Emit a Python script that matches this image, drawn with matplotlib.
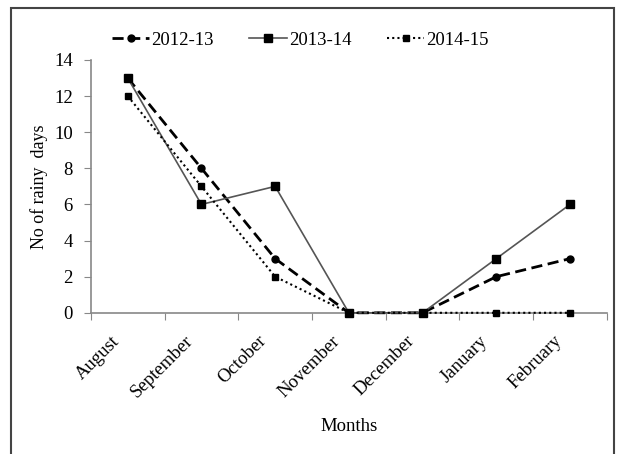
import matplotlib.pyplot as plt
import matplotlib.transforms as mtransforms
from matplotlib.patches import Rectangle

months = ["August", "September", "October", "November", "December", "January", "February"]
y2012 = [13, 8, 3, 0, 0, 2, 3]
y2013 = [13, 6, 7, 0, 0, 3, 6]
y2014 = [12, 7, 2, 0, 0, 0, 0]

plt.rcParams['font.family'] = ['Liberation Serif', 'DejaVu Serif']
plt.rcParams['font.size'] = 13

fig = plt.figure(figsize=(6.18, 4.54), dpi=100)
ax = fig.add_axes([0.147, 0.311, 0.835, 0.557])

x = list(range(len(months)))
ax.plot(x, y2012, color='black', linestyle=(0, (4, 2)), linewidth=2.0,
        marker='o', markersize=5, label='2012-13', clip_on=False, zorder=3)
ax.plot(x, y2013, color='#555555', linestyle='-', linewidth=1.2,
        marker='s', markersize=6, markerfacecolor='black', markeredgecolor='black',
        label='2013-14', clip_on=False, zorder=3)
ax.plot(x, y2014, color='black', linestyle=(0, (1, 1.5)), linewidth=1.5,
        marker='s', markersize=4, label='2014-15', clip_on=False, zorder=3)

ax.set_xlim(-0.5, len(months) - 0.5)
ax.set_ylim(0, 14)
ax.set_yticks(range(0, 15, 2))
ax.set_xticks([i - 0.5 for i in range(len(months) + 1)])
ax.set_xticklabels([])
ax.set_xticks(x, minor=True)
ax.set_xticklabels(months, minor=True, rotation=45, ha='right', rotation_mode='anchor')
ax.tick_params(axis='x', which='minor', length=0, pad=12, labelsize=13.5)
ax.tick_params(axis='x', which='major', length=5, color='#888888', direction='out')
ax.tick_params(axis='y', length=5, color='#888888', direction='out', pad=8, labelsize=13.5)

# shift month labels a little left/down like the original
offset = mtransforms.ScaledTranslation(-0.17, -0.03, fig.dpi_scale_trans)
for lbl in ax.get_xticklabels(minor=True):
    lbl.set_transform(lbl.get_transform() + offset)

for side in ['top', 'right']:
    ax.spines[side].set_visible(False)
for side in ['left', 'bottom']:
    ax.spines[side].set_color('#888888')
    ax.spines[side].set_linewidth(1.2)

ax.set_ylabel('No of rainy  days', labelpad=4, fontsize=13)
ax.set_xlabel('Months', labelpad=12, fontsize=13.5)

fig.legend(loc='center', bbox_to_anchor=(0.486, 0.912), ncol=3, frameon=False,
           handlelength=2.0, columnspacing=1.9, handletextpad=0.1, fontsize=13.5)

fig.patches.append(Rectangle((11 / 618, -0.1), 603 / 618, 1.1 - 8 / 454,
                             transform=fig.transFigure, fill=False,
                             edgecolor='#444444', linewidth=1.5))

fig.savefig('out.png', dpi=100)
